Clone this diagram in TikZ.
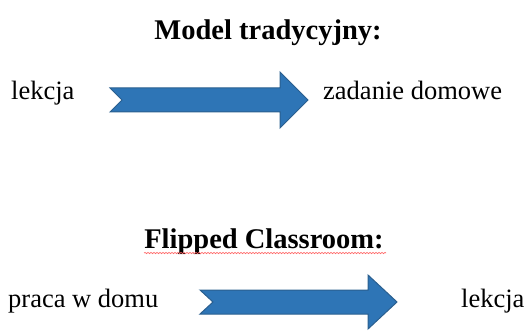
\documentclass[tikz,border=0pt]{standalone}
\usepackage{fontspec}
\setmainfont{Liberation Serif}
\usetikzlibrary{decorations.pathmorphing}
\definecolor{arrowfill}{HTML}{2E75B6}
\definecolor{arrowline}{HTML}{2A5F8F}
\tikzset{
  titletext/.style={anchor=base, inner sep=0pt, font=\fontsize{28.5}{30}\selectfont\bfseries},
  bodytext/.style={anchor=base, inner sep=0pt, font=\fontsize{26.5}{28}\selectfont},
  blockarrow/.style={fill=arrowfill, draw=arrowline, line width=1pt, line join=miter},
  spell/.style={draw=red!60, line width=0.7pt, decorate, decoration={snake, amplitude=0.6pt, segment length=3pt}}
}
\begin{document}
\begin{tikzpicture}[x=1pt, y=-1pt]
\useasboundingbox (0,0) rectangle (526,331);
% section 1
\node[titletext] (t1) at (268,40) {Model tradycyjny:};
\node[bodytext, anchor=base west] (a1) at (11,100) {lekcja};
\node[bodytext, anchor=base west] (b1) at (323,100) {zadanie domowe};
\draw[blockarrow] (110,88) -- (280,88) -- (280,72) -- (308,100) -- (280,128)
  -- (280,112) -- (110,112) -- (122,100) -- cycle;
% section 2
\node[titletext] (t2) at (264,248) {Flipped Classroom:};
\draw[spell] (t2.base west) ++(0,5) -- ++(242,0);
\node[bodytext, anchor=base west] (a2) at (8,307) {praca w domu};
\node[bodytext, anchor=base west] (b2) at (461,307) {lekcja};
\draw[blockarrow] (200,290) -- (368,290) -- (368,275) -- (397,302) -- (368,329)
  -- (368,314) -- (200,314) -- (213,302) -- cycle;
\end{tikzpicture}
\end{document}
